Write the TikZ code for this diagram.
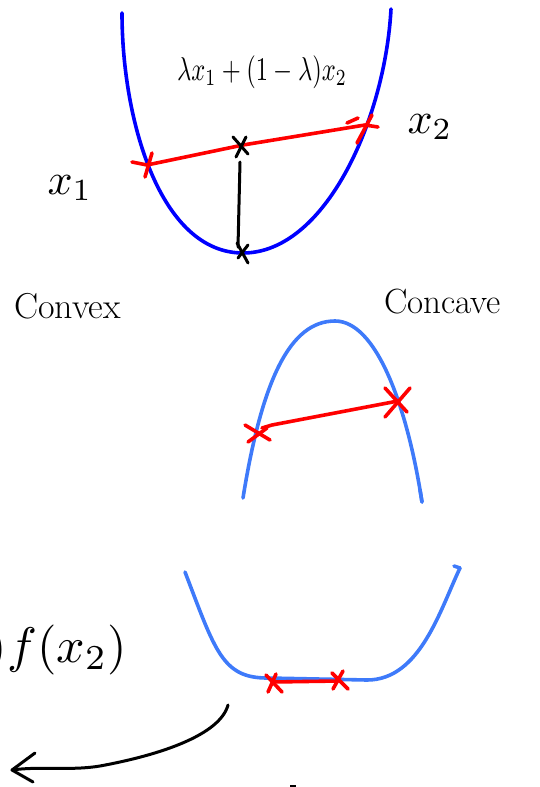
\documentclass[tikz,border=0pt]{standalone}
\usepackage{tikz}
\definecolor{penblue}{RGB}{0,0,255}
\definecolor{lightpen}{RGB}{62,122,250}
\definecolor{penred}{RGB}{255,0,0}
\tikzset{
  pen/.style={line width=3.6pt, line cap=round, line join=round},
  bluepen/.style={pen, draw=penblue},
  lbluepen/.style={pen, draw=lightpen},
  redpen/.style={pen, draw=penred},
  blackpen/.style={line width=3pt, line cap=round, line join=round, draw=black},
  lbl/.style={inner sep=0pt, outer sep=0pt}
}
\begin{document}
\begin{tikzpicture}[x=1pt,y=-1pt]
\useasboundingbox (0,0) rectangle (540,787);

% ---------- top convex curve ----------
\coordinate (tl) at (122,13);
\coordinate (tb) at (243,253);
\coordinate (tr) at (391,9);
\draw[bluepen] (tl) .. controls (122,120) and (160,253) .. (tb)
  .. controls (325,253) and (385,120) .. (tr);
\coordinate (c1) at (147,165);
\coordinate (c2) at (365,125);
\draw[redpen] (132,162) -- (c1) -- (243,145) -- (c2) -- (378,127);
\draw[redpen] (152,153) -- (145,177);
\draw[redpen] (372,115) -- (357,143);
\draw[redpen] (347,123) -- (358,118);
% black marks
\coordinate (m1) at (241,146);
\coordinate (m2) at (243,253);
\draw[blackpen] (233,137) -- (248,154);
\draw[blackpen] (246,137) -- (236,157);
\draw[blackpen] (240,162) -- (238,247);
\draw[blackpen] (237,243) -- (248,263);
\draw[blackpen] (248,245) -- (238,258);

% labels top
\node[lbl, xscale=2.45, yscale=3.3] (mix) at (262,72) {$\lambda x_1+(1-\lambda)x_2$};
\node[lbl, scale=4.4] (x1) at (70,188) {$x_1$};
\node[lbl, scale=4.4] (x2) at (430,127) {$x_2$};
\node[lbl, anchor=base west] (convex) at (14,318) {\fontsize{36}{42}\selectfont Convex};
\node[lbl, anchor=base west] (concave) at (384,313) {\fontsize{35}{40}\selectfont Concave};

% ---------- concave curve ----------
\coordinate (cl) at (243,498);
\coordinate (cp) at (335,321);
\coordinate (cr) at (422,502);
\draw[lbluepen] (cl) .. controls (262,380) and (290,321) .. (cp)
  .. controls (376,321) and (407,405) .. (cr);
\draw[lbluepen] (420,490) -- (cr);
\draw[redpen] (262,428) -- (272,425) -- (398,401);
\draw[redpen] (245,425) -- (270,440);
\draw[redpen] (248,442) -- (267,428);
\draw[redpen] (385,388) -- (407,412);
\draw[redpen] (385,417) -- (410,388);

% ---------- bottom curve ----------
\coordinate (bl) at (185,572);
\coordinate (br) at (460,568);
\draw[lbluepen] (bl) .. controls (215,650) and (222,678) .. (267,678)
  -- (367,680) .. controls (420,680) and (440,610) .. (br);
\draw[lbluepen] (br) -- (454,566);
\draw[redpen] (272,682) -- (338,681);
\draw[redpen] (266,675) -- (282,692);
\draw[redpen] (276,674) -- (268,692);
\draw[redpen] (332,673) -- (348,689);
\draw[redpen] (343,671) -- (333,689);

% formula fragment
\node[lbl, scale=5, anchor=base east] (fx) at (127,662) {$)f(x_2)$};

% arrow
\coordinate (as) at (228,705);
\coordinate (ae) at (12,770);
\draw[blackpen] (as) .. controls (220,735) and (160,755) .. (100,766)
  .. controls (70,771) and (40,766) .. (ae);
\draw[blackpen] (35,753) -- (ae) -- (33,782);

% tiny mark
\fill (290,785) rectangle (296,787);
\end{tikzpicture}
\end{document}
